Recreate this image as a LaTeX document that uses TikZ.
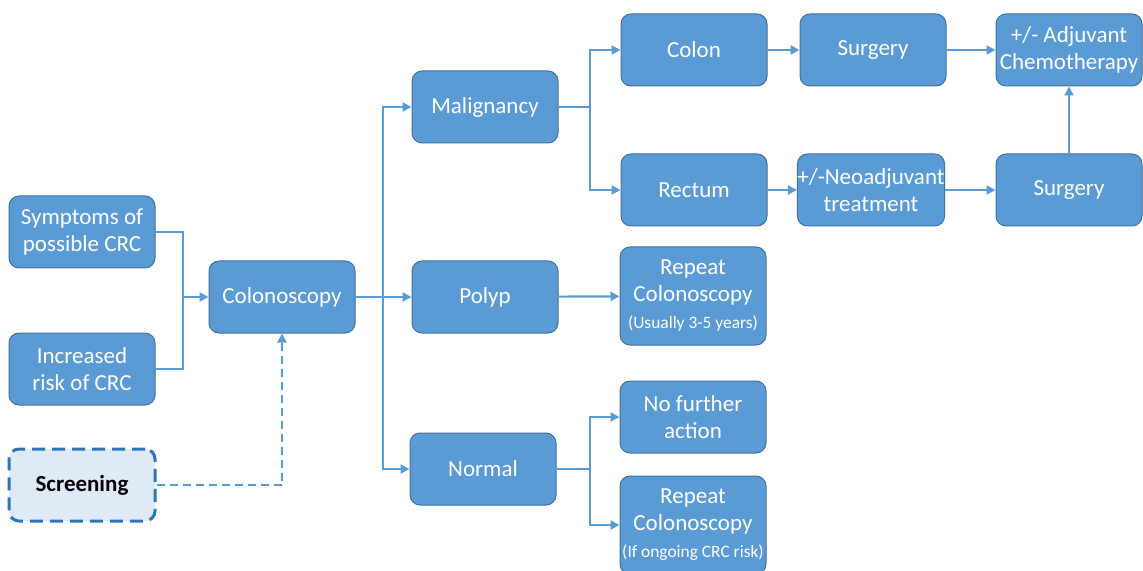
\documentclass[tikz,border=0pt]{standalone}
\usepackage{fontspec}
\setmainfont{Carlito}
\usetikzlibrary{arrows.meta, positioning}
\definecolor{boxblue}{HTML}{5B9BD5}
\definecolor{edgeblue}{HTML}{41719C}
\definecolor{dashblue}{HTML}{2E75B6}
\definecolor{paleblue}{HTML}{DEEBF7}
\newcommand{\subnote}[1]{{\fontsize{8.7}{10.5}\selectfont #1}}

\begin{document}
\begin{tikzpicture}[
    x=0.5pt, y=-0.5pt,
    box/.style={draw=edgeblue, line width=0.5pt, fill=boxblue, rounded corners=5pt,
                align=center, inner xsep=0pt, inner ysep=2pt, minimum width=73pt,
                minimum height=36pt, text=white, font=\fontsize{11.5}{13.5}\selectfont},
    tallbox/.style={box, minimum height=49pt},
    link/.style={draw=boxblue, line width=1.1pt},
    >={Triangle[length=4.5pt, width=4.5pt]}]
  \useasboundingbox (0,0) rectangle (1143,571);

  % entry points
  \node[box] (sym) at (82,232) {Symptoms of\\ possible CRC};
  \node[box] (inc) at (82,369) {Increased\\ risk of CRC};
  \node[box, fill=paleblue, draw=dashblue, line width=1.5pt,
        dash pattern=on 6.5pt off 3.5pt, text=black, font=\fontsize{11.5}{13.5}\selectfont\bfseries]
        (scr) at (82,485) {Screening};
  \node[box] (col) at (282,297) {Colonoscopy};

  % findings
  \node[box] (mal) at (485,107) {Malignancy};
  \node[box] (pol) at (485,297) {Polyp};
  \node[box] (nor) at (483,469) {Normal};

  % malignancy pathway
  \node[box] (colon) at (694,50) {Colon};
  \node[box] (rect) at (694,190) {Rectum};
  \node[box] (surg1) at (873,50) {Surgery};
  \node[box] (neo) at (871,190) {+/-Neoadjuvant\\ treatment};
  \node[box] (adj) at (1069,50) {+/- Adjuvant\\ Chemotherapy};
  \node[box] (surg2) at (1069,190) {Surgery};

  % follow-up
  \node[tallbox] (rep1) at (693,296)
        {Repeat\\ Colonoscopy\\ \subnote{(Usually 3-5 years)}};
  \node[box] (nfa) at (693,417) {No further\\ action};
  \node[tallbox] (rep2) at (693,525)
        {Repeat\\ Colonoscopy\\ \subnote{(If ongoing CRC risk)}};

  % junctions
  \coordinate (j1) at (183,297);
  \coordinate (j2) at (383,297);
  \coordinate (j3) at (590,107);
  \coordinate (j4) at (590,469);

  \draw[link] (sym.east) -| (j1) |- (inc.east);
  \draw[link, ->] (j1) -- (col.west);
  \draw[link, ->, dash pattern=on 4pt off 2.5pt] (scr.east) -| (col.south);

  \draw[link] (col.east) -- (j2);
  \draw[link, ->] (j2) |- (mal.west);
  \draw[link, ->] (j2) -- (pol.west);
  \draw[link, ->] (j2) |- (nor.west);

  \draw[link] (mal.east) -- (j3);
  \draw[link, ->] (j3) |- (colon.west);
  \draw[link, ->] (j3) |- (rect.west);
  \draw[link, ->] (colon) -- (surg1);
  \draw[link, ->] (surg1) -- (adj);
  \draw[link, ->] (rect) -- (neo);
  \draw[link, ->] (neo) -- (surg2);
  \draw[link, ->] (surg2) -- (adj);

  \draw[link, ->] (pol) -- (rep1);
  \draw[link] (nor.east) -- (j4);
  \draw[link, ->] (j4) |- (nfa.west);
  \draw[link, ->] (j4) |- (rep2.west);
\end{tikzpicture}
\end{document}
